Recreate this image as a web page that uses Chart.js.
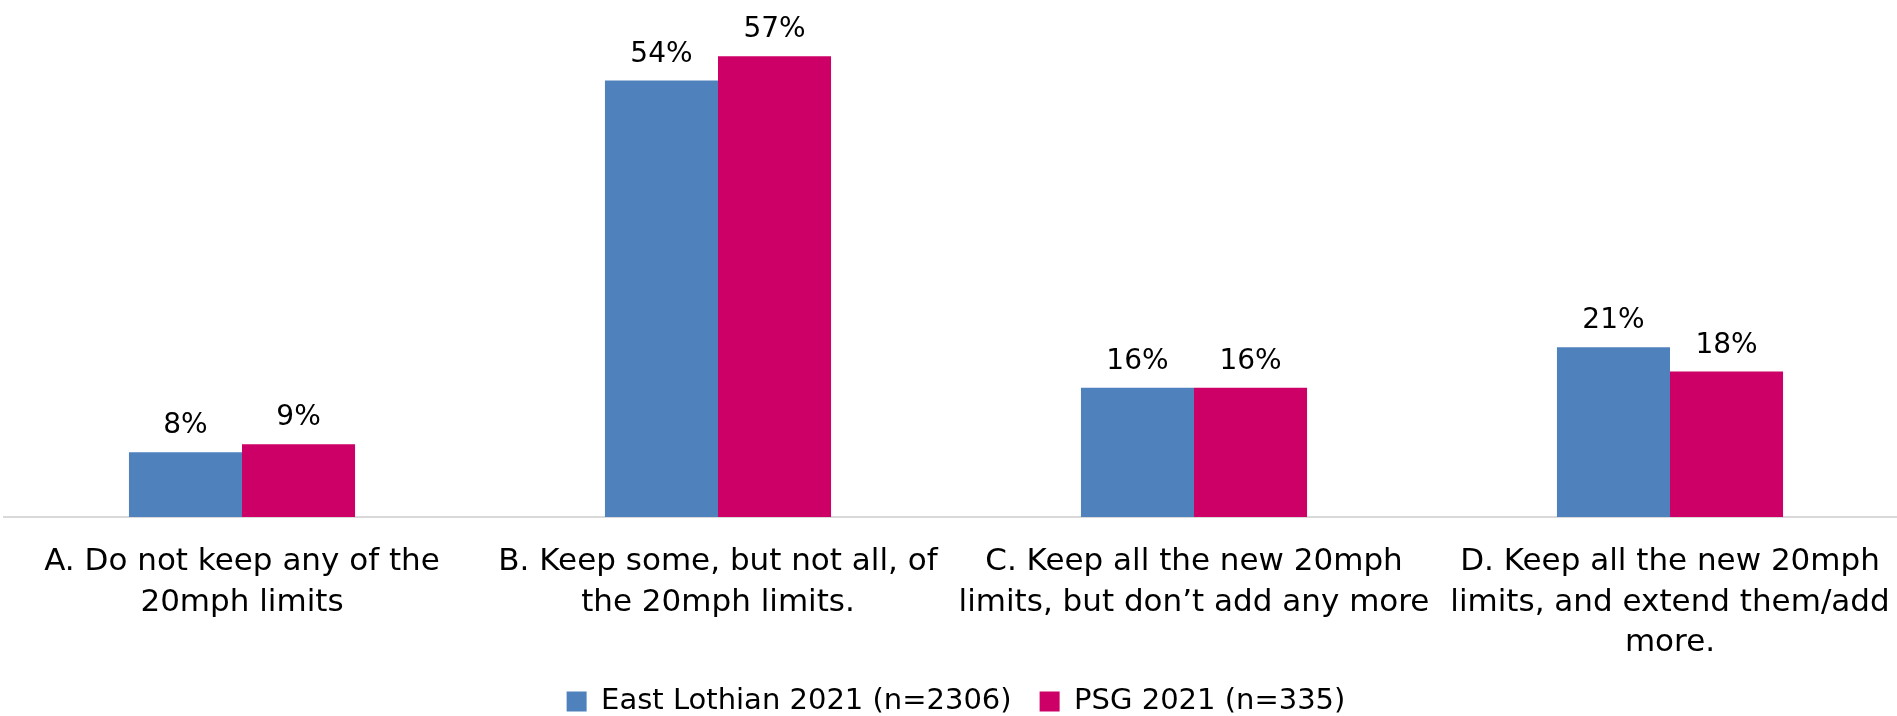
<!DOCTYPE html>
<html>
<head>
<meta charset="utf-8">
<script src="https://cdn.jsdelivr.net/npm/chart.js@4"></script>
<style>
  html, body { margin: 0; padding: 0; background: #fff; overflow: hidden; }
  #wrap { position: relative; width: 1916px; height: 726px; }
</style>
</head>
<body>
<div id="wrap"><canvas id="limitsChart"></canvas></div>
<script>
const categories = [
    ["A. Do not keep any of the", "20mph limits"],
    ["B. Keep some, but not all, of", "the 20mph limits."],
    ["C. Keep all the new 20mph", "limits, but don\u2019t add any more"],
    ["D. Keep all the new 20mph", "limits, and extend them/add", "more."],
]
const eastLothian = [8, 54, 16, 21]
const psg = [9, 57, 16, 18]
const seriesNames = ["East Lothian 2021 (n=2306)", "PSG 2021 (n=335)"]

Chart.defaults.font.family = '"DejaVu Sans", sans-serif';
Chart.defaults.color = "#000";

// percentage labels above each bar
const barLabels = {
    id: "barLabels",
    afterDatasetsDraw(chart) {
        const ctx = chart.ctx;
        ctx.save();
        ctx.font = '28px "DejaVu Sans"';
        ctx.fillStyle = "#000";
        ctx.textAlign = "center";
        ctx.textBaseline = "alphabetic";
        chart.data.datasets.forEach((dataset, i) => {
            chart.getDatasetMeta(i).data.forEach((bar, j) => {
                ctx.fillText(dataset.data[j] + "%", bar.x, bar.y - 19);
            });
        });
        ctx.restore();
    }
}

const limitsData = {
    labels: categories,
    datasets: [
        {
            label: seriesNames[0],
            backgroundColor: "#4f81bd",
            data: eastLothian,
        },
        {
            label: seriesNames[1],
            backgroundColor: "#cc0066",
            data: psg,
        },
    ],
}

const limitsConfig = {
    type: "bar",
    data: limitsData,
    plugins: [barLabels],
    options: {
        responsive: true,
        maintainAspectRatio: false,
        animation: false,
        layout: { padding: { left: 4, right: 8, top: 32, bottom: 0 } },
        datasets: {
            bar: { categoryPercentage: 0.475, barPercentage: 1 }
        },
        scales: {
            x: {
                grid: { display: false, drawTicks: false },
                border: { display: true, color: "#d9d9d9", width: 2 },
                ticks: {
                    autoSkip: false,
                    maxRotation: 0,
                    minRotation: 0,
                    padding: 25,
                    color: "#000",
                    font: { size: 31, lineHeight: 1.306 },
                },
                afterFit: (scale) => { scale.height = 142; },
            },
            y: {
                display: false,
                min: 0,
                max: 60,
            },
        },
        plugins: {
            legend: {
                position: "bottom",
                labels: {
                    boxWidth: 20,
                    boxHeight: 20,
                    padding: 28,
                    color: "#000",
                    font: { size: 29 },
                },
            },
            tooltip: { enabled: false },
        },
    },
}

const limitsCanvas = document.getElementById("limitsChart")
const limitsChart = new Chart(limitsCanvas, limitsConfig);
</script>
</body>
</html>
